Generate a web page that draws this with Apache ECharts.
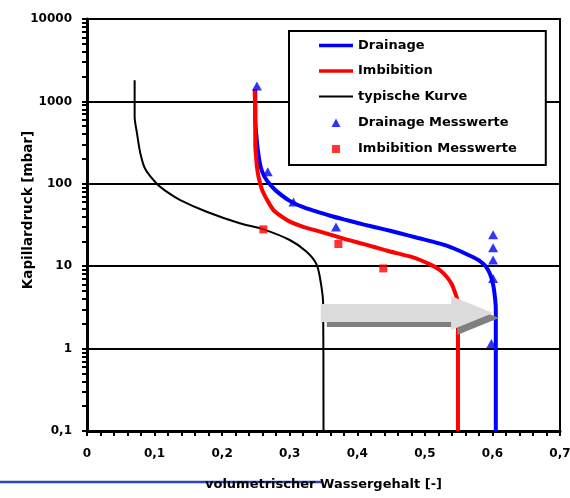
<!DOCTYPE html>
<html>
<head>
<meta charset="utf-8">
<script src="https://cdn.jsdelivr.net/npm/echarts@6/dist/echarts.min.js"></script>
<style>
  html, body { margin: 0; padding: 0; background: #fff; }
  #chart { width: 570px; height: 498px; }
</style>
</head>
<body>
<div id="chart"></div>
<script>
// Kapillardruck [mbar] über volumetrischem Wassergehalt [-]
const drainageCurve = [
  [0.249, 1400], [0.249, 600], [0.2505, 400], [0.253, 250], [0.257, 160], [0.262, 125],
  [0.270, 100], [0.280, 82], [0.300, 62], [0.320, 52], [0.340, 46], [0.360, 41],
  [0.380, 37], [0.410, 32], [0.440, 28], [0.460, 25.5], [0.490, 22], [0.510, 20],
  [0.530, 18], [0.550, 15.5], [0.570, 13], [0.580, 11.8], [0.590, 10], [0.596, 8.2],
  [0.601, 6], [0.604, 4], [0.605, 3], [0.605, 0.1]
];
const imbibitionCurve = [
  [0.248, 1400], [0.249, 700], [0.249, 300], [0.2505, 200], [0.2515, 160], [0.254, 120],
  [0.259, 85], [0.266, 65], [0.276, 48], [0.290, 39], [0.300, 34.7], [0.320, 30],
  [0.340, 27], [0.365, 23.5], [0.385, 21], [0.410, 18.5], [0.440, 15.8], [0.458, 14.4],
  [0.480, 13], [0.493, 11.9], [0.510, 10.3], [0.522, 9], [0.532, 7.5], [0.540, 6],
  [0.545, 4.7], [0.548, 3.9], [0.549, 3], [0.549, 0.1]
];
const typicalCurve = [
  [0.0705, 1800], [0.0705, 650], [0.074, 410], [0.079, 234], [0.086, 152], [0.103, 101],
  [0.120, 78], [0.138, 63.5], [0.177, 45.8], [0.226, 33.2], [0.261, 28], [0.300, 20.8],
  [0.325, 15], [0.340, 10.4], [0.347, 5.6], [0.3495, 3.5], [0.350, 0.1]
];
const drainagePoints = [
  [0.2515, 1540], [0.2675, 140], [0.3055, 60], [0.3685, 30], [0.601, 24],
  [0.601, 16.8], [0.601, 11.9], [0.601, 7.1], [0.5985, 1.15]
];
const imbibitionPoints = [
  [0.261, 28], [0.372, 18.6], [0.4385, 9.4]
];
// Pfeil: von Wassergehalt, bis Wassergehalt, bei Druck
const shiftArrow = [[0.346, 0.601, 2.7]];

const yLabelValues = [0.1, 1, 10, 100, 1000, 10000];
const yTickValues = [];
[0.1, 1, 10, 100, 1000].forEach((decade) => {
  for (let k = 1; k <= 9; k++) {
    yTickValues.push(+(decade * k).toPrecision(3));
  }
});
yTickValues.push(10000);

const legendNames = ['Drainage', 'Imbibition', 'typische Kurve', 'Drainage Messwerte', 'Imbibition Messwerte'];
const yTitle = 'Kapillardruck [mbar]';
const xTitle = 'volumetrischer Wassergehalt [-]';

const FONT = 'DejaVu Sans';
const chart = echarts.init(document.getElementById('chart'), null, { renderer: 'canvas' });

function formatComma(value) {
  if (value === 0) {
    return '0';
  }
  const text = value < 1 ? value.toFixed(1) : String(Math.round(value * 10) / 10);
  return text.replace('.', ',');
}

function renderArrow(params, api) {
  const tail = api.coord([api.value(0), api.value(2)]);
  const tip = api.coord([api.value(1), api.value(2)]);
  const cy = tail[1];
  const bodyHalf = 9;
  const headHalf = 17;
  const headLen = 42;
  const neck = tip[0] - headLen;
  const points = [
    [tail[0], cy - bodyHalf], [neck, cy - bodyHalf], [neck, cy - headHalf], [tip[0], cy],
    [neck, cy + headHalf], [neck, cy + bodyHalf], [tail[0], cy + bodyHalf]
  ];
  const shadow = points.map((p) => [p[0] + 6, p[1] + 5]);
  return {
    type: 'group',
    children: [
      { type: 'polygon', shape: { points: shadow }, style: { fill: '#808080' } },
      { type: 'polygon', shape: { points }, style: { fill: '#dcdcdc' } }
    ]
  };
}

const option = {
  backgroundColor: '#fff',
  animation: false,
  textStyle: { fontFamily: FONT },
  grid: {
    left: 87,
    right: 10,
    top: 19,
    bottom: 67,
    outerBoundsMode: 'none',
    show: true,
    borderColor: '#000',
    borderWidth: 2,
    backgroundColor: '#fff'
  },
  legend: {
    orient: 'vertical',
    left: 289,
    top: 31,
    width: 259,
    padding: [8, 29, 9, 30],
    itemWidth: 34,
    itemHeight: 14,
    itemGap: 12.5,
    itemTextGap: 4,
    backgroundColor: '#fff',
    borderColor: '#000',
    borderWidth: 2,
    textStyle: { color: '#000', fontFamily: FONT, fontWeight: 'bold', fontSize: 13 },
    data: [
      { name: legendNames[0], icon: 'path://M0,0H34V3.5H0Z' },
      { name: legendNames[1], icon: 'path://M0,0H34V3.5H0Z' },
      { name: legendNames[2], icon: 'path://M0,0H34V2H0Z' },
      { name: legendNames[3], icon: 'path://M0,0M34,14M12.5,11.5L17,3L21.5,11.5Z' },
      { name: legendNames[4], icon: 'path://M0,0M34,14M13,3H21V11H13Z' }
    ],
    selectedMode: false
  },
  xAxis: {
    type: 'value',
    min: 0,
    max: 0.7,
    interval: 0.1,
    name: xTitle,
    nameLocation: 'middle',
    nameGap: 47,
    nameTextStyle: { color: '#000', fontFamily: FONT, fontWeight: 'bold', fontSize: 13 },
    axisLine: { lineStyle: { color: '#000', width: 3 } },
    axisTick: { length: 5, lineStyle: { color: '#000', width: 2 } },
    minorTick: { show: true, splitNumber: 5, length: 5, lineStyle: { color: '#000', width: 2 } },
    axisLabel: {
      margin: 17,
      color: '#000',
      fontFamily: FONT,
      fontWeight: 'bold',
      fontSize: 12,
      formatter: (v) => formatComma(v)
    },
    splitLine: { show: false }
  },
  yAxis: [
    {
      type: 'log',
      min: 0.1,
      max: 10000,
      axisLine: { show: true, lineStyle: { color: '#000', width: 3 } },
      axisTick: { show: false },
      axisLabel: {
        margin: 15,
        color: '#000',
        fontFamily: FONT,
        fontWeight: 'bold',
        fontSize: 12,
        customValues: yLabelValues,
        formatter: (v) => formatComma(v)
      },
      splitLine: { show: true, lineStyle: { color: '#000', width: 2 } }
    },
    {
      type: 'log',
      min: 0.1,
      max: 10000,
      position: 'left',
      offset: 0,
      axisLine: { show: false },
      axisLabel: { show: false },
      splitLine: { show: false },
      axisTick: {
        show: true,
        length: 5,
        customValues: yTickValues,
        lineStyle: { color: '#000', width: 2 }
      }
    }
  ],
  graphic: [
    {
      type: 'line',
      z: -1,
      shape: { x1: 0, y1: 482, x2: 323, y2: 482 },
      style: { stroke: '#2a48b4', lineWidth: 2.5 }
    },
    {
      type: 'text',
      x: 28,
      y: 210,
      rotation: Math.PI / 2,
      style: {
        text: yTitle,
        fill: '#000',
        font: 'bold 13.5px "DejaVu Sans"',
        align: 'center',
        verticalAlign: 'middle'
      }
    }
  ],
  series: [
    {
      name: legendNames[0],
      type: 'line',
      data: drainageCurve,
      color: '#0000ff',
      symbol: 'none',
      smooth: 0.3,
      lineStyle: { width: 4, color: '#0000ff' },
      z: 2
    },
    {
      name: legendNames[1],
      type: 'line',
      data: imbibitionCurve,
      color: '#ff0000',
      symbol: 'none',
      smooth: 0.3,
      lineStyle: { width: 4, color: '#ff0000' },
      z: 3
    },
    {
      name: legendNames[2],
      type: 'line',
      data: typicalCurve,
      color: '#000000',
      symbol: 'none',
      smooth: 0.3,
      lineStyle: { width: 2, color: '#000000' },
      z: 3
    },
    {
      name: 'Pfeil',
      type: 'custom',
      data: shiftArrow,
      encode: { x: [0, 1], y: 2 },
      renderItem: renderArrow,
      silent: true,
      z: 4
    },
    {
      name: legendNames[3],
      type: 'scatter',
      data: drainagePoints,
      color: '#0000ff',
      symbol: 'triangle',
      symbolSize: [10, 9],
      z: 5
    },
    {
      name: legendNames[4],
      type: 'scatter',
      data: imbibitionPoints,
      color: '#ff0000',
      symbol: 'rect',
      symbolSize: 8,
      z: 5
    }
  ]
};

chart.setOption(option);
</script>
</body>
</html>
